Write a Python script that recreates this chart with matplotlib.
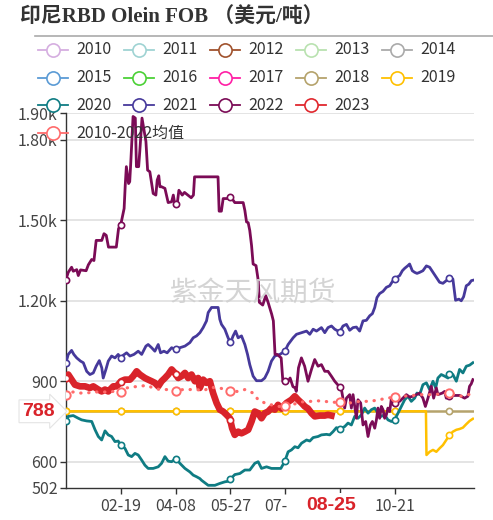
import numpy as np
import matplotlib
matplotlib.use('Agg')
import matplotlib.pyplot as plt
from matplotlib.lines import Line2D
from matplotlib.patches import Rectangle

plt.rcParams['font.family'] = ['Noto Sans CJK SC', 'DejaVu Sans']

# ---------------- data ----------------
title = '印尼RBD Olein FOB （美元/吨）'
legend_years = ['2010', '2011', '2012', '2013', '2014',
                '2015', '2016', '2017', '2018', '2019',
                '2020', '2021', '2022', '2023']
legend_colors = ['#d5aee0', '#9fd3d3', '#a0522d', '#b9e2b0', '#aaaaaa',
                 '#5b9bd5', '#4cd137', '#ff1fa5', '#b5a36c', '#ffc000',
                 '#0f7c83', '#46399b', '#7b0b56', '#e0282e']
avg_label = '2010-2022均值'
avg_color = '#ff6b6b'

x_tick_days = [50, 99, 148, 197, 246, 295]
x_tick_labels = ['02-19', '04-08', '05-27', '07-15', '', '10-21']
y_ticks = [502, 600, 900, 1200, 1500, 1800, 1900]
y_tick_labels = ['502', '600', '900', '1.20k', '1.50k', '1.80k', '1.90k']
marker_days = [1, 50, 99, 148, 197, 246, 295, 344]
current_date_label = '08-25'
current_date_day = 238
current_value = 788
watermark = '紫金天风期货'

days_2018 = [1, 366]
vals_2018 = [788, 788]

days_2019 = [1, 323, 323.5, 326.3, 329.3, 332.3, 335.2, 338.2, 341.2, 344.2, 347.1,
             350.2, 353.1, 356.1, 359.1, 362.1, 365]
vals_2019 = [788, 788, 625, 637, 644, 637, 650, 662, 681, 700, 712,
             719, 722, 727, 740, 752, 760]

days_2020 = [1, 3, 7.5, 12, 15, 19.5, 24, 27, 29.9, 32.9, 35.9, 38.8, 41.8, 44.8, 47.7, 50,
             53.7, 56.7, 59.7, 62.7, 65.6, 68.7, 71.6, 74.5, 79, 83.5, 86.5, 89.5, 92.4, 95.5,
             99.3, 102.9, 107.4, 111.8, 114.8, 117.8, 120.8, 122.2, 128.2, 134.2, 138.6, 143.1,
             146, 148.5, 152, 156.5, 161, 165.4, 169.9, 172.9, 175.9, 180.4, 184.8, 193.2,
             196.8, 199.7, 202.7, 205.7, 208.6, 211.7, 216.2, 219.1, 222.1, 226.5, 229.5, 234,
             236.9, 239.9, 242.9, 245.9, 250.3, 253.3, 256.3, 259.3, 262.2, 265.3, 268.2, 271.2,
             274.2, 277.2, 280.1, 283.1, 286.1, 289, 292.1, 295, 298, 301, 304, 306.9, 309.9,
             312.9, 315, 317.4, 320.3, 323.4, 326.3, 329.3, 331.7, 333.7, 336.7, 339.7, 342.7,
             344.2, 347.1, 350.2, 353.1, 356.1, 359.1, 362.1, 365]
vals_2020 = [752, 769, 772, 762, 756, 752, 750, 719, 694, 681, 715, 700, 694, 675, 677, 662,
             650, 625, 619, 631, 625, 606, 587, 575, 575, 581, 594, 619, 602, 600,
             612, 594, 575, 562, 550, 544, 537, 531, 512, 512, 519, 525,
             527, 537, 552, 556, 569, 569, 594, 600, 575, 581, 575, 575,
             602, 637, 644, 656, 652, 669, 681, 677, 690, 694, 700, 702,
             700, 712, 727, 722, 731, 744, 737, 769, 762, 775, 800, 781,
             794, 800, 781, 769, 775, 756, 750, 756, 781, 806, 831, 844, 825,
             837, 856, 850, 887, 894, 869, 900, 875, 912, 925, 919, 912,
             931, 925, 900, 944, 931, 956, 960, 969]

days_2021 = [1, 3, 6, 8, 10.6, 14, 16.5, 19.5, 22.4, 25.4, 28, 30.8, 33, 34.3, 36.7, 38.8,
             41.8, 44.8, 47.7, 50, 52.2, 55.2, 58.2, 61.8, 65.6, 68.7, 72.5, 74.5, 77.6, 80.5,
             83.5, 85.6, 88.6, 91.5, 95.5, 98.4, 102.9, 107.4, 111.8, 114.8, 117.8, 120.8,
             123.7, 126.7, 128.2, 131.2, 137.1, 138.6, 140.1, 143.1, 146, 148.2, 150.5, 152.7,
             155, 158, 161, 163.4, 165.4, 168.4, 171.4, 175.9, 178.8, 181.8, 184.8, 187.8,
             192.3, 196.8, 199.7, 204.2, 207.2, 211.7, 216.2, 219.1, 222.1, 225.1, 229.5,
             232.5, 235.4, 238.5, 241.4, 244.4, 245.9, 248.8, 251.9, 254.8, 257.8, 260.8,
             263.7, 266.7, 269.7, 272.7, 275.1, 277.2, 279.2, 281.6, 284.6, 287.6, 290.6,
             293.5, 296, 299.5, 301.9, 304, 306.9, 308.4, 310.8, 312.9, 315, 317.4, 320.3,
             323.4, 326.3, 329.3, 332.3, 335.2, 338.2, 341.2, 343.6, 347.1, 349.5, 352.5,
             354.6, 356.7, 359.1, 361.4, 363.6, 365.6]
vals_2021 = [969, 1000, 1015, 1000, 987, 975, 969, 937, 925, 931, 956, 977, 950, 912, 944, 975,
             994, 987, 1000, 985, 997, 1006, 994, 1000, 1012, 1000, 1031, 1037, 1025, 1012,
             1037, 1006, 1012, 1006, 1025, 1019, 1025, 1031, 1044, 1062, 1069, 1081,
             1100, 1125, 1156, 1175, 1175, 1131, 1112, 1094, 1062, 1044, 1069, 1087,
             1062, 1069, 1037, 1000, 962, 919, 902, 902, 912, 937, 975, 994,
             1000, 1012, 1037, 1062, 1075, 1081, 1087, 1075, 1094, 1087, 1100,
             1081, 1100, 1106, 1094, 1087, 1084, 1106, 1112, 1090, 1100, 1102,
             1087, 1125, 1127, 1144, 1152, 1175, 1212, 1227, 1235, 1250, 1256,
             1275, 1285, 1294, 1312, 1321, 1331, 1337, 1312, 1306, 1302, 1306, 1312,
             1330, 1325, 1306, 1287, 1269, 1265, 1275, 1284, 1281, 1202, 1206,
             1200, 1215, 1256, 1262, 1275, 1277]

days_2022 = [1, 3, 6, 7.5, 10.6, 12, 14, 19, 21, 24, 26, 28, 33, 35, 37, 39, 46, 48, 50,
             53, 54, 55, 57, 58, 59, 61, 63, 64, 66, 67, 69, 70, 72.5, 74, 76, 77.6, 79, 81.4,
             82.6, 84, 85, 86.5, 89.5, 91, 92.4, 95.5, 97, 98.4, 100.5, 102, 105, 107, 110,
             113, 115, 116, 137, 138, 140, 141.6, 146, 148.5, 152, 159.5, 161, 162.5, 164,
             165.4, 167, 168.4, 171, 173, 174, 177, 179.7, 181.8, 185, 186.5, 188, 190, 193.5,
             195, 197, 199, 201.5, 204, 206, 207, 209, 211.6, 214.5, 217.5, 220.6, 223.5,
             226.5, 229.5, 232.5, 235.4, 238.4, 241.4, 245.3, 247.4, 250.3, 251.9, 254.8,
             256.3, 257.8, 259.3, 260.8, 262.2, 264.6, 266.7, 269.1, 271.2, 273.3, 275.1,
             277.2, 278.7, 280.1, 281.6, 283.1, 284.6, 286.1, 287.6, 289, 290.6, 292.1, 294.1,
             296.5, 299.5, 302.4, 305.5, 308.4, 311.4, 314.4, 317.4, 320.3, 322.5, 324.8,
             327.8, 329.9, 332.3, 333.7, 337.7, 339.7, 341.2, 344.2, 350.2, 353.1, 357.6,
             360.5, 362, 363.5, 365]
vals_2022 = [1279, 1306, 1325, 1310, 1316, 1294, 1315, 1312, 1334, 1354, 1350, 1425, 1425,
             1450, 1444, 1400, 1400, 1469, 1484,
             1544, 1631, 1700, 1637, 1644, 1719, 1887, 1881, 1700, 1700, 1756, 1881, 1856,
             1794, 1687, 1681, 1637, 1600, 1594,
             1650, 1666, 1625, 1625, 1619, 1591, 1566, 1569, 1594, 1559, 1562, 1612, 1594,
             1604, 1594, 1584, 1594, 1662, 1662, 1534, 1534, 1581, 1581, 1587, 1566, 1566,
             1537, 1494, 1491,
             1462, 1406, 1337, 1331, 1275, 1194, 1184, 1219, 1194, 1150, 1125, 1000, 1000, 987,
             900, 900, 895, 912, 880, 875, 862, 950, 987, 956, 900, 944, 981,
             956, 962, 937, 937, 919, 900, 881, 869, 800, 837, 850,
             800, 850, 806, 762, 831, 819, 737, 750, 694, 737, 750,
             725, 756, 800, 762, 806, 794, 762, 775, 800, 787, 837, 812,
             831, 825, 837, 850, 841, 844, 850, 856, 837, 806, 837,
             881, 837, 875, 850, 856, 862, 837, 847, 847, 847, 837,
             844, 881, 890, 906]

days_2023 = [1, 3, 6, 9, 13.5, 18, 22.4, 25.4, 29.9, 32.9, 35.9, 38.8, 43.3, 46.3, 50.2, 53.7,
             58.2, 61.1, 64.2, 67.1, 71.6, 74.5, 77.6, 80.5, 83.5, 86.5, 89.5, 92.4, 95.5, 98.4,
             101.4, 104.4, 107.4, 110.3, 113.3, 116.3, 119.2, 120.7, 123.7, 126.7, 129.7, 132.6,
             135.7, 138.6, 141.6, 144.6, 147.6, 149.6, 152, 155, 158, 161, 164, 167, 169.9,
             172.9, 175.9, 178.8, 181.8, 184.8, 187.8, 190.7, 193.8, 198.2, 202.7, 205.7, 208.6,
             211.7, 214.6, 217.5, 220.6, 223.5, 228, 232.5, 235.4, 238.4]
vals_2023 = [912, 925, 906, 887, 881, 881, 875, 881, 869, 862, 869, 862, 881, 881, 900, 906,
             906, 919, 937, 925, 912, 906, 900, 894, 881, 900, 912, 925, 944, 931,
             912, 919, 931, 912, 925, 900, 912, 875, 906, 894, 900, 856,
             819, 794, 787, 775, 762, 725, 700, 712, 706, 712, 719, 750, 787,
             781, 762, 781, 787, 800, 794, 812, 798, 819, 831, 844, 831,
             819, 806, 798, 781, 769, 772, 772, 775, 772]

days_avg = [1, 3, 7.5, 13.5, 19.5, 25.4, 31.4, 37.4, 43.3, 50.2, 55.2, 61.1, 67.1, 73.1, 79,
            85, 91, 99.3, 105.8, 111.8, 117.8, 123.7, 131.2, 138.6, 148.2, 155, 161, 168.4,
            172.9, 178.8, 184.8, 190.7, 196.8, 202.7, 208.6, 214.6, 220.6, 226.5, 232.5, 238.4,
            245.9, 254.8, 263.7, 272.7, 281.6, 287.6, 295, 302.4, 311.4, 318.9, 326.3, 335.2,
            344.2, 353.1, 359.1, 365]
vals_avg = [847, 856, 860, 856, 856, 860, 860, 860, 862, 860, 875, 879, 881, 885, 875,
            869, 869, 865, 869, 869, 869, 865, 877, 875, 862, 862, 869, 856,
            831, 819, 812, 806, 806, 812, 819, 825, 825, 827, 825, 822,
            821, 819, 825, 825, 831, 837, 840, 844, 847, 850, 850, 852,
            856, 844, 847, 856]

# ---------------- figure ----------------
W, H = 493, 520
fig = plt.figure(figsize=(W / 100, H / 100), dpi=100)


def fx(px):
    return px / W


def fy(py):
    return 1 - py / H


ax_left, ax_right, ax_top, ax_bottom = 66, 474, 113, 488
ax = fig.add_axes([fx(ax_left), fy(ax_bottom), (ax_right - ax_left) / W, (ax_bottom - ax_top) / H])
ax.patch.set_alpha(0)
ax.set_xlim(1, 366)
ax.set_ylim(502, 1900)

for s in ['top', 'right']:
    ax.spines[s].set_visible(False)
for s in ['left', 'bottom']:
    ax.spines[s].set_color('#333333')
    ax.spines[s].set_linewidth(1.0)

ax.set_yticks(y_ticks)
ax.set_yticklabels(y_tick_labels)
ax.set_xticks(x_tick_days)
ax.set_xticklabels(x_tick_labels)
ax.tick_params(axis='both', colors='#333333', labelcolor='#444444', labelsize=11.5,
               length=4, width=1, direction='out')
ax.tick_params(axis='y', pad=2)
ax.tick_params(axis='x', pad=3)
for yv in y_ticks[1:]:
    ax.axhline(yv, color='#dcdcdc', lw=1.1, zorder=0.5)

fig.text(fx(253), fy(293), watermark, ha='center', va='center',
         fontsize=20, color='#d0d0d0', alpha=0.9, zorder=0.2)

series = [
    (days_2018, vals_2018, legend_colors[8], 1.8),
    (days_2019, vals_2019, legend_colors[9], 1.8),
    (days_2020, vals_2020, legend_colors[10], 2.0),
    (days_2021, vals_2021, legend_colors[11], 2.0),
    (days_2022, vals_2022, legend_colors[12], 2.0),
    (days_2023, vals_2023, '#d9232a', 4.8),
]
z = 2
for d, v, c, lw in series:
    ax.plot(d, v, color=c, lw=lw, zorder=z, solid_joinstyle='round')
    md = [m for m in marker_days if d[0] <= m <= d[-1]]
    ax.plot(md, np.interp(md, d, v), ls='none', marker='o', ms=4.5, mfc='white',
            mec=c, mew=1.2, zorder=z + 0.5)
    z += 1

ax.plot(days_avg, vals_avg, color=avg_color, lw=2.3, ls=(0, (0.1, 2.4)), zorder=z,
        dash_capstyle='round')
ax.plot(marker_days, np.interp(marker_days, days_avg, vals_avg), ls='none', marker='o',
        ms=6, mfc='white', mec=avg_color, mew=1.4, zorder=z + 0.5)

# current date label on x axis (white box hides neighbouring tick label, not the axis)
date_px = ax_left + (current_date_day - 1) / 365 * (ax_right - ax_left)
fig.add_artist(Rectangle((fx(date_px - 43), fy(518)), 86 / W, (518 - 493) / H,
                         transform=fig.transFigure, fc='white', ec='none', zorder=5))
fig.text(fx(date_px), fy(505), current_date_label, ha='center', va='center',
         fontsize=14, fontweight='bold', color='#d9232a',
         family=['Liberation Sans', 'DejaVu Sans'], zorder=6)
# current value label on y axis
ax.text(-0.028, current_value, str(current_value), transform=ax.get_yaxis_transform(),
        ha='right', va='center', fontsize=14, fontweight='bold', color='#d9232a',
        family=['Liberation Sans', 'DejaVu Sans'],
        bbox=dict(boxstyle='rarrow,pad=0.15', fc='white', ec='#e4e4e4', lw=0.8),
        zorder=10, clip_on=False)

# title and separator
fig.text(fx(20), fy(18), title, ha='left', va='center', fontsize=15, fontweight='bold',
         color='#333333', family=['Liberation Serif', 'Noto Sans CJK SC'])
fig.add_artist(Line2D([fx(35), fx(493)], [fy(36), fy(36)], color='#aaaaaa', lw=1.2))

# legend (5 columns; the wide average item wraps to its own row)
col_x = [53, 139, 225, 311, 397]
row_y = [50, 78, 105, 133]
items = list(zip(legend_years, legend_colors))
positions = [(col_x[i % 5], row_y[i // 5]) for i in range(len(items))]
items.append((avg_label, avg_color))
positions.append((col_x[0], row_y[3]))
for (lab, col), (cx, cy) in zip(items, positions):
    fig.add_artist(Line2D([fx(cx - 15), fx(cx + 15)], [fy(cy), fy(cy)], color=col, lw=1.3,
                          zorder=20))
    fig.add_artist(Line2D([fx(cx)], [fy(cy)], marker='o', ms=9.5, mfc='white', mec=col,
                          mew=1.2, zorder=21))
    fig.text(fx(cx + 23), fy(cy), lab, ha='left', va='center', fontsize=11.5,
             color='#333333', zorder=22)

fig.savefig('out.png', dpi=100)
